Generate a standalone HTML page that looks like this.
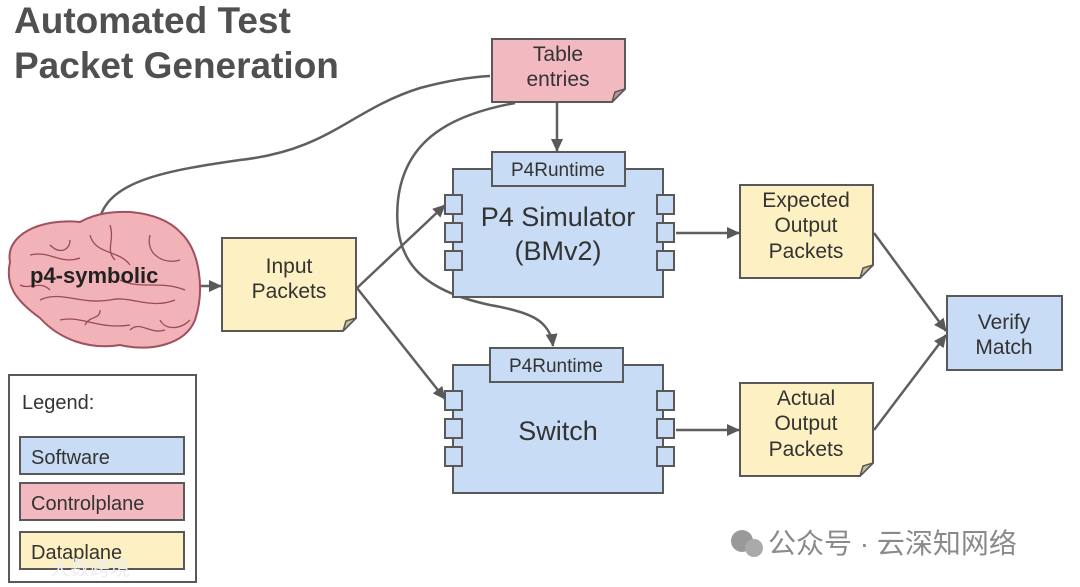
<!DOCTYPE html>
<html><head><meta charset="utf-8"><style>
html,body{margin:0;padding:0;background:#fff;}
body{width:1080px;height:587px;overflow:hidden;position:relative;font-family:"Liberation Sans","Noto Sans CJK SC",sans-serif;}
</style></head><body>
<svg width="1080" height="587" viewBox="0 0 1080 587" xmlns="http://www.w3.org/2000/svg" style="position:absolute;left:0;top:0">
<defs>
<marker id="a" markerWidth="14" markerHeight="14" refX="12" refY="7" orient="auto" markerUnits="userSpaceOnUse">
<path d="M0,1 L13,7 L0,13 Z" fill="#595959"/></marker>
</defs>
<g font-family="Liberation Sans, sans-serif">
<text x="14" y="33" font-size="37" font-weight="bold" fill="#505050">Automated Test</text>
<text x="14" y="78" font-size="37" font-weight="bold" fill="#505050">Packet Generation</text>
</g>
<g stroke="#5f5f5f" stroke-width="2.5" fill="none">
<path d="M100,218 C110,180 170,170 240,160 C330,150 350,110 420,88 C450,80 470,77 490,76"/>
<path d="M515,103 C450,115 405,140 398,200 C392,260 420,290 490,305 C530,312 550,320 553,346" marker-end="url(#a)"/>
<path d="M557,102 L557,151" marker-end="url(#a)"/>
<path d="M190,286 L221,286" marker-end="url(#a)"/>
<path d="M357,288 L445,205" marker-end="url(#a)"/>
<path d="M357,288 L445,399" marker-end="url(#a)"/>
<path d="M676,233 L739,233" marker-end="url(#a)"/>
<path d="M676,430 L739,430" marker-end="url(#a)"/>
<path d="M874,233 L946,331" marker-end="url(#a)"/>
<path d="M874,430 L946,335" marker-end="url(#a)"/>
</g>
<!-- brain -->
<g>
<path d="M10,262 C5,235 40,218 80,222 C110,205 160,210 180,232 C200,250 205,290 195,320 C185,345 150,352 120,345 C90,350 60,340 40,318 C15,300 5,285 10,262 Z" fill="#f1b3b8" stroke="#a05060" stroke-width="2"/>
<g stroke="#9a4a58" stroke-width="1.3" fill="none">
<path d="M30,255 C50,250 60,265 80,258 M90,235 C95,255 120,250 130,265 M150,235 C145,255 165,265 180,260 M40,300 C60,290 80,305 110,300 C130,295 150,310 175,300 M60,320 C80,315 100,330 130,325 M120,280 C140,290 160,280 185,290 M70,240 C70,250 60,255 50,245 M160,320 C165,330 180,330 190,320 M20,285 C30,290 40,280 50,290 M110,225 C115,240 105,250 115,260 M130,330 C140,320 150,335 165,330 M85,325 C90,315 100,320 100,310"/>
</g>
<text x="30" y="283" font-size="22" font-weight="bold" fill="#222" font-family="Liberation Sans, sans-serif">p4-symbolic</text>
</g>
<!-- notes -->
<g stroke="#595959" stroke-width="2">
<path d="M222,238 H356 V318 L343,331 H222 Z" fill="#fdf0c2"/>
<path d="M492,39 H625 V89 L612,102 H492 Z" fill="#f3b9c0"/>
<path d="M740,185 H873 V265 L860,278 H740 Z" fill="#fdf0c2"/>
<path d="M740,383 H873 V463 L860,476 H740 Z" fill="#fdf0c2"/>
</g>
<g fill="#c8c0a0" stroke="#595959" stroke-width="1.5">
<path d="M343,331 L346,321 L356,318 Z"/>
<path d="M612,102 L615,92 L625,89 Z" fill="#c89098"/>
<path d="M860,278 L863,268 L873,265 Z"/>
<path d="M860,476 L863,466 L873,463 Z"/>
</g>
<!-- sim -->
<g stroke="#595959" stroke-width="2" fill="#c9dcf5">
<rect x="453" y="169" width="210" height="128"/>
<rect x="492" y="152" width="133" height="34"/>
<rect x="445" y="195" width="17" height="19"/><rect x="445" y="223" width="17" height="19"/><rect x="445" y="251" width="17" height="19"/>
<rect x="657" y="195" width="17" height="19"/><rect x="657" y="223" width="17" height="19"/><rect x="657" y="251" width="17" height="19"/>
<rect x="453" y="365" width="210" height="128"/>
<rect x="490" y="348" width="133" height="34"/>
<rect x="445" y="391" width="17" height="19"/><rect x="445" y="419" width="17" height="19"/><rect x="445" y="447" width="17" height="19"/>
<rect x="657" y="391" width="17" height="19"/><rect x="657" y="419" width="17" height="19"/><rect x="657" y="447" width="17" height="19"/>
<rect x="947" y="296" width="115" height="74"/>
</g>
<g font-family="Liberation Sans, sans-serif" fill="#333" text-anchor="middle">
<text x="289" y="273" font-size="21">Input</text><text x="289" y="298" font-size="21">Packets</text>
<text x="558" y="61" font-size="21">Table</text><text x="558" y="86" font-size="21">entries</text>
<text x="558" y="176" font-size="19">P4Runtime</text>
<text x="558" y="226" font-size="27">P4 Simulator</text><text x="558" y="260" font-size="27">(BMv2)</text>
<text x="556" y="372" font-size="19">P4Runtime</text>
<text x="558" y="440" font-size="27">Switch</text>
<text x="806" y="207" font-size="21">Expected</text><text x="806" y="232" font-size="21">Output</text><text x="806" y="258" font-size="21">Packets</text>
<text x="806" y="405" font-size="21">Actual</text><text x="806" y="430" font-size="21">Output</text><text x="806" y="456" font-size="21">Packets</text>
<text x="1004" y="329" font-size="21">Verify</text><text x="1004" y="354" font-size="21">Match</text>
</g>
<!-- legend -->
<rect x="9" y="375" width="187" height="207" fill="#fff" stroke="#595959" stroke-width="2"/>
<g stroke="#595959" stroke-width="2">
<rect x="20" y="437" width="164" height="37" fill="#c9dcf5"/>
<rect x="20" y="483" width="164" height="37" fill="#f3b9c0"/>
<rect x="20" y="532" width="164" height="37" fill="#fdf0c2"/>
</g>
<g font-family="Liberation Sans, sans-serif" fill="#333" font-size="20">
<text x="22" y="409">Legend:</text>
<text x="31" y="464">Software</text>
<text x="31" y="510">Controlplane</text>
<text x="31" y="559">Dataplane</text>
</g>
<text x="50" y="575" font-size="20" fill="#eee" font-family="Noto Sans CJK SC, sans-serif">大数跨境</text>
<!-- watermark -->
<circle cx="742" cy="541" r="11" fill="#999"/><circle cx="754" cy="548" r="9" fill="#aaa"/>
<text x="768" y="553" font-size="28" fill="#8a8a8a" font-family="Liberation Sans, Noto Sans CJK SC, sans-serif">公众号 · 云深知网络</text>
</svg>
</body></html>
